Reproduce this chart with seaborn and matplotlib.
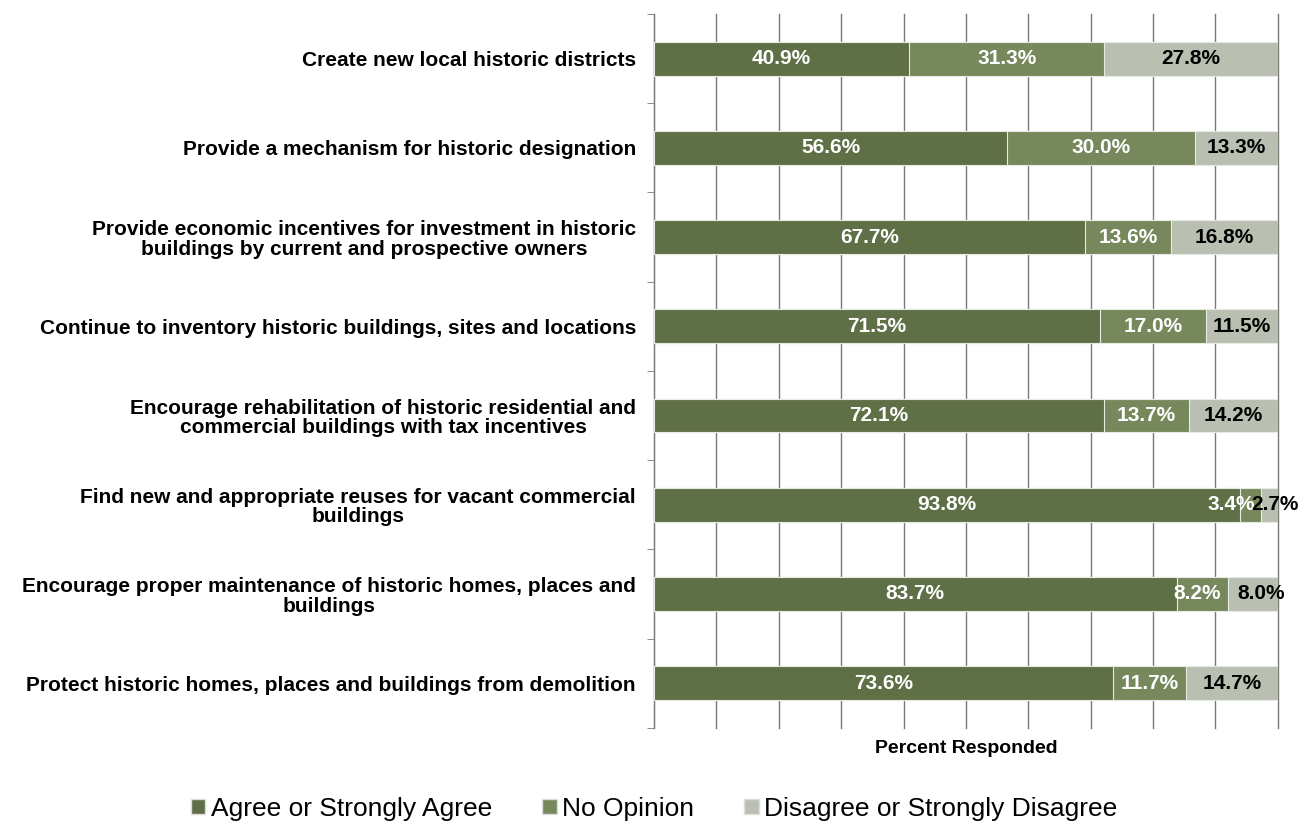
import matplotlib
matplotlib.use("Agg")
import matplotlib.pyplot as plt
from matplotlib.patches import Patch
import seaborn as sns
import numpy as np
import pandas as pd

# survey data (percent responded)
statements = [
    "Create new local historic districts",
    "Provide a mechanism for historic designation",
    "Provide economic incentives for investment in historic\nbuildings by current and prospective owners",
    "Continue to inventory historic buildings, sites and locations",
    "Encourage rehabilitation of historic residential and\ncommercial buildings with tax incentives",
    "Find new and appropriate reuses for vacant commercial\nbuildings",
    "Encourage proper maintenance of historic homes, places and\nbuildings",
    "Protect historic homes, places and buildings from demolition",
]
agree = [40.9, 56.6, 67.7, 71.5, 72.1, 93.8, 83.7, 73.6]
no_opinion = [31.3, 30.0, 13.6, 17.0, 13.7, 3.4, 8.2, 11.7]
disagree = [27.8, 13.3, 16.8, 11.5, 14.2, 2.7, 8.0, 14.7]
series_names = ["Agree or Strongly Agree", "No Opinion", "Disagree or Strongly Disagree"]

colors = ["#5f6f46", "#77895c", "#b9c0b1"]
text_colors = ["white", "white", "black"]

df = pd.DataFrame({"statement": statements, "agree": agree,
                   "no_opinion": no_opinion, "disagree": disagree})
cols = ["agree", "no_opinion", "disagree"]
total = df[cols].sum(axis=1)
# 100% stacked -> normalise each row
share = df[cols].div(total, axis=0)
cum = share.cumsum(axis=1)

plt.rcParams["font.family"] = ["Liberation Sans", "DejaVu Sans"]

fig = plt.figure(figsize=(13.16, 8.27), dpi=100)
ax = fig.add_axes([0.497, 0.12, 0.474, 0.863])

# draw from the outermost cumulative segment inwards
for i in [2, 1, 0]:
    sns.barplot(x=cum[cols[i]], y=df["statement"], color=colors[i], width=0.38,
                errorbar=None, saturation=1, edgecolor="#e8ebe3", linewidth=0.8,
                orient="h", ax=ax, zorder=3)

# value labels (a few nudged sideways like the original)
nudges = {(5, 1): -14, (5, 2): 4, (6, 1): -4, (6, 2): 6}
for r in range(len(statements)):
    left = 0.0
    for i, c in enumerate(cols):
        w = share.loc[r, c]
        ax.annotate(f"{df.loc[r, c]:.1f}%", xy=(left + w / 2, r),
                    xytext=(nudges.get((r, i), 0), 0), textcoords="offset points",
                    ha="center", va="center", fontsize=15, fontweight="bold",
                    color=text_colors[i], zorder=5)
        left += w

ax.set_xlim(0, 1)
ax.set_ylim(len(statements) - 0.5, -0.5)
ax.set_xticks(np.arange(0, 1.01, 0.1))
ax.set_xticklabels([])
ax.tick_params(axis="x", length=0)
ax.grid(axis="x", color="#7a7a7a", linewidth=1, zorder=0)
ax.set_axisbelow(True)
for gl in ax.get_xgridlines():
    gl.set_clip_on(False)

ax.set_yticks(range(len(statements)))
ax.set_yticklabels(statements, fontsize=15, fontweight="bold",
                   multialignment="center", linespacing=1.05)
ax.tick_params(axis="y", which="major", length=0, pad=13)
ax.set_yticks(np.arange(-0.5, len(statements)), minor=True)
ax.tick_params(axis="y", which="minor", length=5, color="#7a7a7a")

ax.set_ylabel("")
ax.set_xlabel("Percent Responded", fontsize=14, fontweight="bold", labelpad=5)

for s in ["top", "right", "bottom"]:
    ax.spines[s].set_visible(False)
ax.spines["left"].set_color("#7a7a7a")

handles = [Patch(facecolor=c, edgecolor="#dddddd", label=n) for c, n in zip(colors, series_names)]
fig.legend(handles=handles, loc="center", bbox_to_anchor=(0.497, 0.022), ncol=3,
           frameon=False, fontsize=19, handlelength=0.55, handleheight=0.55,
           handletextpad=0.2, columnspacing=1.9)

fig.savefig("out.png", dpi=100)
